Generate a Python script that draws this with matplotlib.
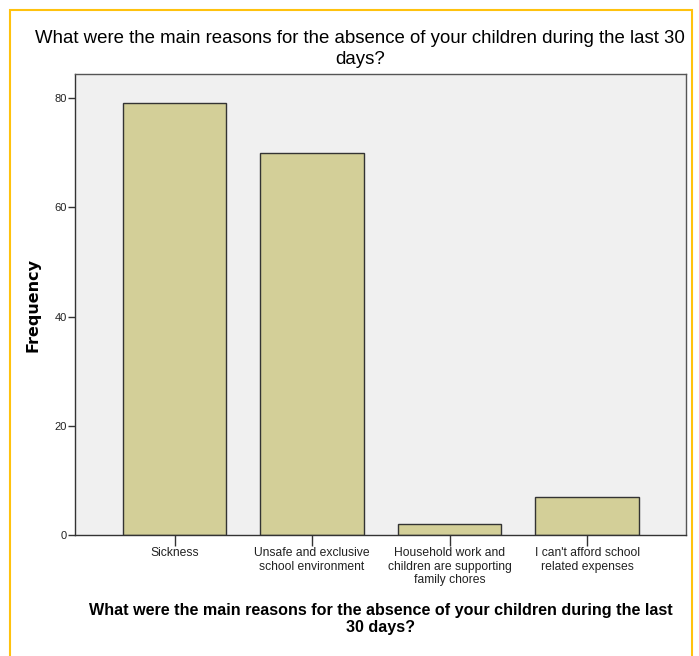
import matplotlib
matplotlib.use("Agg")
import matplotlib.pyplot as plt
from matplotlib.patches import Rectangle

categories = ["Sickness", "Unsafe and exclusive\nschool environment",
              "Household work and\nchildren are supporting\nfamily chores",
              "I can't afford school\nrelated expenses"]
frequencies = [79, 70, 2, 7]
yticks = [0, 20, 40, 60, 80]
title_lines = ["What were the main reasons for the absence of your children during the last 30", "days?"]
xlabel_lines = ["What were the main reasons for the absence of your children during the last", "30 days?"]

plt.rcParams['font.family'] = ['Liberation Sans', 'DejaVu Sans']

W, H = 699, 656
fig = plt.figure(figsize=(W/100, H/100), dpi=100)
ax = fig.add_axes([75/W, 1-535/H, (686-75)/W, (535-74)/H])
ax.set_facecolor("#F0F0F0")

x = list(range(len(categories)))
ax.bar(x, frequencies, width=0.75, color="#D3CF98", edgecolor="#333333", linewidth=1.0, zorder=2)
ax.set_xlim(-0.724, 3.72)
ax.set_ylim(0, 84.4)
ax.set_yticks(yticks)
ax.set_yticklabels([str(v) for v in yticks], fontsize=8, color="#222222")
ax.set_xticks(x)
ax.set_xticklabels(categories, fontsize=8.7, color="#222222", linespacing=1.15)
ax.tick_params(axis='y', length=5, width=1, color="#333333", pad=1)
ax.tick_params(axis='x', length=8, width=1, color="#333333", pad=1)
for s in ax.spines.values():
    s.set_color("#555555")
    s.set_linewidth(1.0)
ax.spines['left'].set_color("#333333")
ax.spines['bottom'].set_color("#333333")

ax.set_ylabel("Frequency", fontsize=11.5, fontweight="bold", family="DejaVu Sans", labelpad=10)
for line, yy in zip(title_lines, [43, 64]):
    fig.text(360/W, 1-yy/H, line, ha="center", va="baseline", fontsize=13.4)
for line, yy in zip(xlabel_lines, [615, 632]):
    fig.text(381/W, 1-yy/H, line, ha="center", va="baseline", fontsize=11.6, fontweight="bold")

fig.patches.append(Rectangle((10/W, -0.05), (692-10)/W, 1.05 - 10/H, transform=fig.transFigure,
                             fill=False, edgecolor="#FFC20E", linewidth=1.5))

fig.savefig("out.png", dpi=100)
